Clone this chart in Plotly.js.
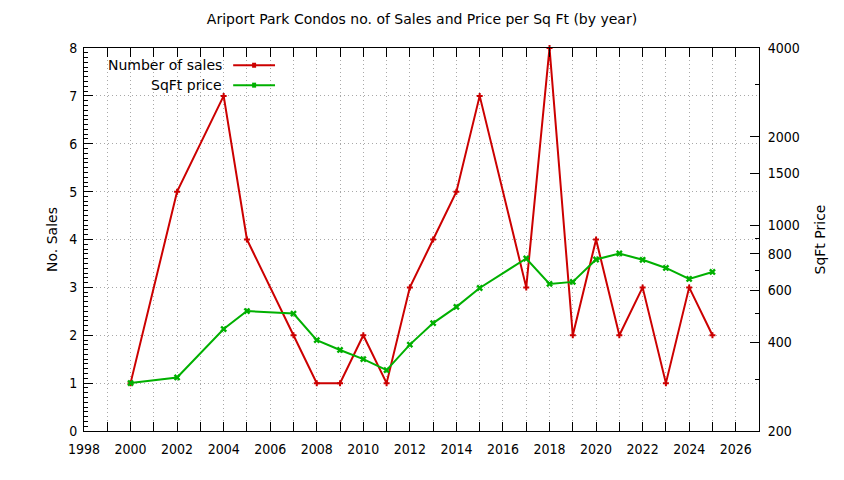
<!DOCTYPE html>
<html>
<head>
<meta charset="utf-8">
<script src="https://cdn.plot.ly/plotly-3.0.1.min.js"></script>
<style>
  body { margin: 0; background: #fff; }
  #chart { width: 844px; height: 480px; }
</style>
</head>
<body>
<div id="chart"></div>
<script>
// sales and price per sq ft, by year
var years = [2000, 2002, 2004, 2005, 2007, 2008, 2009, 2010, 2011, 2012, 2013,
             2014, 2015, 2017, 2018, 2019, 2020, 2021, 2022, 2023, 2024, 2025];
var sales = [1, 5, 7, 4, 2, 1, 1, 2, 1, 3, 4, 5, 7, 3, 8, 2, 4, 2, 3, 1, 3, 2];
var sqftPrice = [291, 304, 444, 511, 501, 407, 377, 351, 322, 393, 465,
                 528, 612, 771, 632, 642, 765, 802, 763, 716, 657, 694];

var priceTicks = [200, 400, 600, 800, 1000, 1500, 2000, 4000];
var priceMinorTicks = [300, 500, 700, 900, 3000];

var FONT = '"DejaVu Sans", sans-serif';
var TICKFONT = '"DejaVu Sans Condensed", "DejaVu Sans", sans-serif';
var RED = '#cc0000';
var GREEN = '#00b000';
var GRID = '#a8a8a8';
var DOTS = '1px,3px';

var data = [
    {
        type: 'scatter',
        mode: 'lines+markers',
        name: 'Number of sales',
        x: years,
        y: sales,
        line: { color: RED, width: 2 },
        marker: { color: RED, symbol: 'cross', size: 5 },
        cliponaxis: false
    },
    {
        type: 'scatter',
        mode: 'lines+markers',
        name: 'SqFt price',
        x: years,
        y: sqftPrice,
        yaxis: 'y2',
        line: { color: GREEN, width: 2 },
        marker: { color: GREEN, symbol: 'x', size: 6 },
        cliponaxis: false
    }
];

// gnuplot-style key: text on the left, sample on the right
var legendNames = ['Number of sales', 'SqFt price'];
var legendColours = [RED, GREEN];
var annotations = [];
var shapes = [];
legendNames.forEach(function (name, i) {
    var yk = 0.955 - i * 0.052;
    annotations.push({
        xref: 'paper', yref: 'paper', x: 0.208, y: yk,
        xanchor: 'right', yanchor: 'middle', showarrow: false,
        text: name, font: { family: FONT, size: 14, color: '#000' }
    });
    shapes.push({
        type: 'line', xref: 'paper', yref: 'paper',
        x0: 0.221, x1: 0.283, y0: yk, y1: yk,
        line: { color: legendColours[i], width: 2 }
    });
    shapes.push({
        type: 'rect', xref: 'paper', yref: 'paper',
        xsizemode: 'pixel', ysizemode: 'pixel',
        xanchor: 0.252, yanchor: yk,
        x0: -2, x1: 2, y0: -2.5, y1: 2.5,
        fillcolor: legendColours[i], line: { width: 0 }
    });
});

var layout = {
    width: 844,
    height: 480,
    margin: { l: 84, r: 85, t: 48, b: 49 },
    paper_bgcolor: '#fff',
    plot_bgcolor: '#fff',
    font: { family: FONT, size: 14, color: '#000' },
    showlegend: false,
    title: {
        text: 'Ariport Park Condos no. of Sales and Price per Sq Ft (by year)',
        font: { family: FONT, size: 14, color: '#000' },
        x: 0.5, xanchor: 'center',
        y: 0.96, yanchor: 'middle'
    },
    xaxis: {
        range: [1998, 2027],
        dtick: 2, tick0: 1998,
        ticks: 'inside', ticklen: 9, tickcolor: '#000',
        tickfont: { family: TICKFONT, size: 14 },
        ticklabelstandoff: 5,
        showline: true, linecolor: '#000', linewidth: 1,
        mirror: 'ticks',
        showgrid: true, gridcolor: GRID, griddash: DOTS, gridwidth: 1,
        minor: {
            dtick: 1, ticks: 'inside', ticklen: 9, tickcolor: '#000',
            showgrid: true, gridcolor: GRID, griddash: DOTS, gridwidth: 1
        },
        zeroline: false,
        fixedrange: true
    },
    yaxis: {
        range: [0, 8],
        dtick: 1,
        ticks: 'inside', ticklen: 9, tickcolor: '#000',
        tickfont: { family: TICKFONT, size: 14 },
        ticklabelstandoff: 3,
        showline: true, linecolor: '#000', linewidth: 1,
        showgrid: true, gridcolor: GRID, griddash: DOTS, gridwidth: 1,
        minor: { dtick: 0.1, ticks: 'inside', ticklen: 4, tickcolor: '#000', showgrid: false },
        zeroline: false,
        title: { text: 'No. Sales', font: { family: FONT, size: 14 }, standoff: 8 },
        fixedrange: true
    },
    yaxis2: {
        type: 'log',
        overlaying: 'y',
        side: 'right',
        range: [Math.log10(200), Math.log10(4000)],
        tickmode: 'array',
        tickvals: priceTicks,
        ticktext: priceTicks.map(String),
        ticks: 'inside', ticklen: 9, tickcolor: '#000',
        tickfont: { family: TICKFONT, size: 14 },
        ticklabelstandoff: 5,
        showline: true, linecolor: '#000', linewidth: 1,
        showgrid: false,
        minor: { tickmode: 'array', tickvals: priceMinorTicks, ticks: 'inside', ticklen: 4, tickcolor: '#000', showgrid: false },
        zeroline: false,
        title: { text: 'SqFt Price', font: { family: FONT, size: 14 }, standoff: 16 },
        fixedrange: true
    },
    annotations: annotations,
    shapes: shapes
};

Plotly.newPlot('chart', data, layout, { displayModeBar: false, staticPlot: true });
</script>
</body>
</html>
